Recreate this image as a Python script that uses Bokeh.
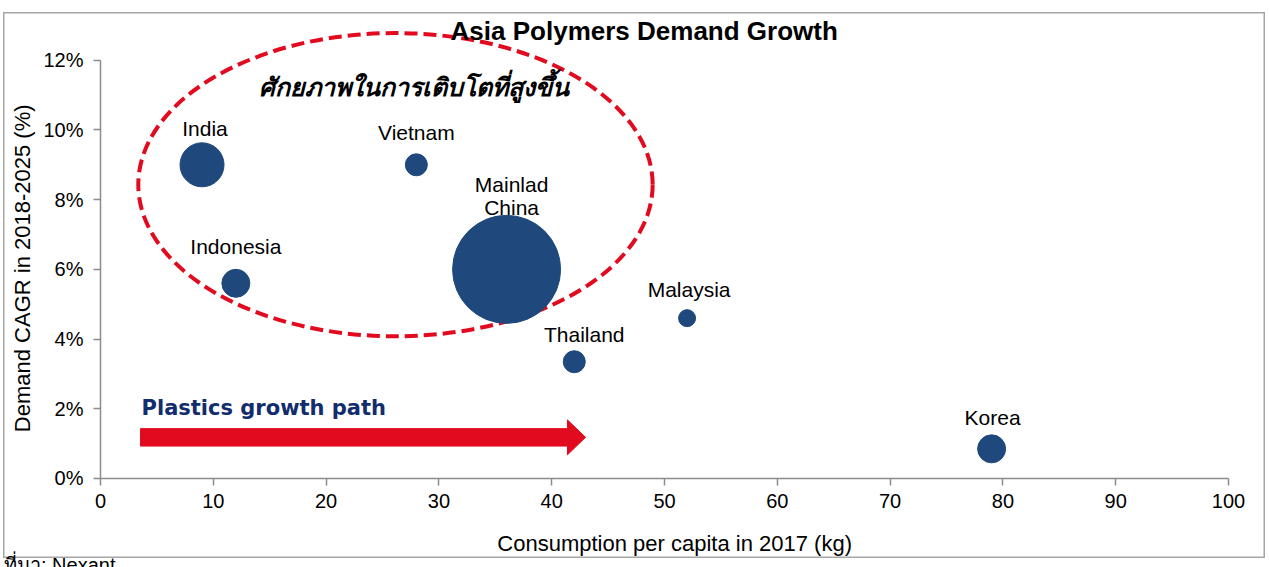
import math
from bokeh.plotting import figure
from bokeh.models import (Range1d, FixedTicker, PrintfTickFormatter, Label,
                          ColumnDataSource, Div)
from bokeh.layouts import column
from bokeh.embed import file_html
from bokeh.resources import INLINE
from bokeh.core.properties import value

# ---- data ----
countries = ["India", "Vietnam", "Mainlad\nChina", "Indonesia", "Malaysia", "Thailand", "Korea"]
consumption_kg = [9, 28, 36, 12, 52, 42, 79]          # per capita, 2017
cagr_pct = [9.0, 9.0, 6.0, 5.6, 4.6, 3.35, 0.85]      # demand CAGR 2018-2025
bubble_px = [44, 22, 108, 28, 17, 22, 28]             # bubble diameter (market size)
x_ticks = [0, 10, 20, 30, 40, 50, 60, 70, 80, 90, 100]
y_ticks = [0, 2, 4, 6, 8, 10, 12]

# ---- label styling (screen offsets) ----
label_dx = [3, 0, 5, 0, 2, 10, 1]
label_dy = [-36, -32, -73, -37, -29, -27, -31]

FONT = "Liberation Sans"
NAVY = "#1F497D"
RED = "#E20A1E"
GRAY = "#8c8c8c"

src = ColumnDataSource(dict(x=consumption_kg, y=cagr_pct, size=bubble_px,
                            name=countries, dx=label_dx, dy=label_dy))

# the frame fills the whole bordered box; axes are pinned at x=0 / y=0
p = figure(width=1262, height=546, output_backend="svg", toolbar_location=None,
           x_range=Range1d(-8.6, 103.28), y_range=Range1d(-2.296, 13.37),
           min_border=0, min_border_left=0, min_border_right=0,
           min_border_top=0, min_border_bottom=0)
p.styles = {"margin-left": "3px", "margin-top": "12px"}
p.outline_line_color = "#a6a6a6"
p.outline_line_width = 2
p.xgrid.visible = False
p.ygrid.visible = False
p.background_fill_color = "white"
p.border_fill_color = "white"

for ax in (p.xaxis[0], p.yaxis[0]):
    ax.fixed_location = 0
    ax.axis_line_color = GRAY
    ax.axis_line_width = 1.5
    ax.major_tick_line_color = GRAY
    ax.major_tick_line_width = 1.5
    ax.major_tick_out = 7
    ax.major_tick_in = 0
    ax.minor_tick_line_color = None
    ax.major_label_text_font = FONT
    ax.major_label_text_font_size = "20px"
    ax.major_label_text_color = "black"

p.xaxis.ticker = FixedTicker(ticks=x_ticks)
p.yaxis.ticker = FixedTicker(ticks=y_ticks)
p.yaxis.formatter = PrintfTickFormatter(format="%d%%")
p.xaxis.bounds = (0, 100)
p.yaxis.bounds = (0, 12)
p.xaxis.major_label_standoff = 9
p.yaxis.major_label_standoff = 10

# dashed ellipse highlighting the high-growth group
p.ellipse(x=[26.15], y=[8.43], width=[45.6], height=[8.7], fill_color=None,
          line_color=RED, line_width=4, line_dash="13 6")

# bubbles
p.scatter("x", "y", size="size", source=src, fill_color=NAVY, line_color=NAVY)

# country labels
p.text("x", "y", text="name", source=src, x_offset="dx", y_offset="dy",
       text_align="center", text_baseline="middle", text_font=value(FONT),
       text_font_size="21px", text_color="black", text_line_height=1.0)

# growth path arrow (block arrow built from its start/end and thickness)
AX0, AX1, AY = 3.55, 43.0, 1.18
SHAFT_HALF, HEAD_HALF, HEAD_LEN = 0.25, 0.5, 1.6
arrow_xs = [AX0, AX1 - HEAD_LEN, AX1 - HEAD_LEN, AX1, AX1 - HEAD_LEN, AX1 - HEAD_LEN, AX0]
arrow_ys = [AY - SHAFT_HALF, AY - SHAFT_HALF, AY - HEAD_HALF, AY, AY + HEAD_HALF,
            AY + SHAFT_HALF, AY + SHAFT_HALF]
p.patch(arrow_xs, arrow_ys, fill_color=RED, line_color=RED, line_width=1)

p.add_layout(Label(x=3.64, y=2.03, text="Plastics growth path", text_font="DejaVu Sans",
                   text_font_style="bold", text_font_size="21px", text_color="#112D6E",
                   text_align="left", text_baseline="middle"))

# Thai annotation
p.add_layout(Label(x=27.8, y=11.25, text="ศักยภาพในการเติบโตที่สูงขึ้น", text_font="Noto Sans",
                   text_font_style="bold italic", text_font_size="25px", text_color="black",
                   text_align="center", text_baseline="middle"))

# title
p.add_layout(Label(x=48.2, y=12.84, text="Asia Polymers Demand Growth", text_font=FONT,
                   text_font_style="bold", text_font_size="26px", text_color="black",
                   text_align="center", text_baseline="middle"))

# axis titles
p.add_layout(Label(x=-6.91, y=6.03, text="Demand CAGR in 2018-2025 (%)", angle=math.pi / 2,
                   text_font=FONT, text_font_size="22px", text_color="black",
                   text_align="center", text_baseline="middle"))
p.add_layout(Label(x=50.9, y=-1.87, text="Consumption per capita in 2017 (kg)",
                   text_font=FONT, text_font_size="22px", text_color="black",
                   text_align="center", text_baseline="middle"))

footer = Div(text="ที่มา: Nexant",
             styles={"font-size": "20px", "font-family": "Liberation Sans", "margin-top": "-7px",
                     "margin-left": "4px", "color": "black"})

layout = column(p, footer, spacing=0)
open("out.html", "w").write(file_html(layout, INLINE))
